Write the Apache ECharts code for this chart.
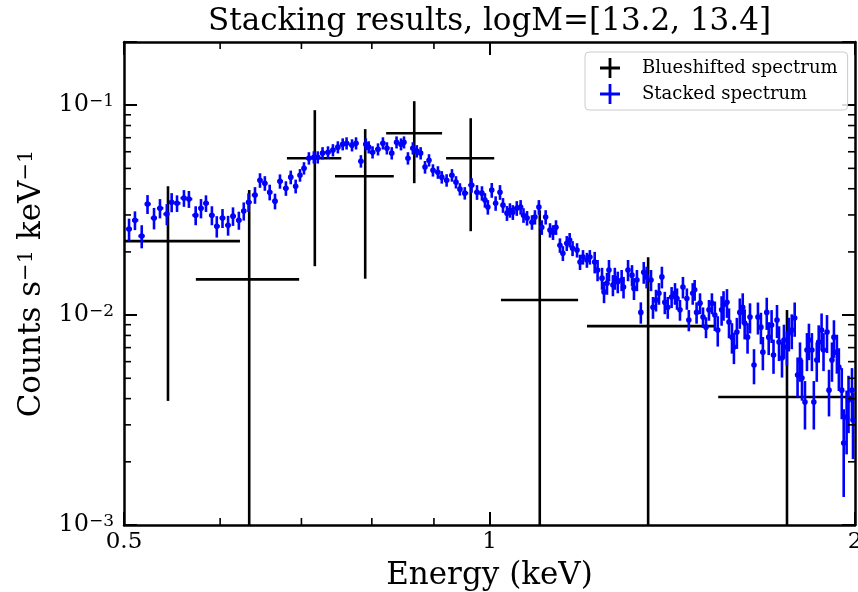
<!DOCTYPE html>
<html><head><meta charset="utf-8">
<script src="https://cdn.jsdelivr.net/npm/echarts@6/dist/echarts.min.js"></script>
<style>html,body{margin:0;padding:0;background:#fff;overflow:hidden}#chart{width:858px;height:592px}</style>
</head><body><div id="chart"></div>
<script>
const FONT = '"DejaVu Serif", "Liberation Serif", serif';

// ---- Blueshifted spectrum (black): energy centre, bin edges, counts, 1-sigma error
const bsE    = [0.5435, 0.634, 0.718, 0.790, 0.867, 0.965, 1.100, 1.351, 1.758];
const bsElo  = [0.474, 0.573, 0.681, 0.746, 0.822, 0.921, 1.022, 1.203, 1.543];
const bsEhi  = [0.623, 0.697, 0.755, 0.834, 0.914, 1.009, 1.183, 1.534, 1.993];
const bsC    = [0.0225, 0.0148, 0.0559, 0.0459, 0.0735, 0.0559, 0.0118, 0.00886, 0.00407];
const bsErr  = [0.0186, 0.0246, 0.0388, 0.031, 0.031, 0.0308, 0.0198, 0.0100, 0.0065];

// ---- Stacked spectrum (blue): energy, counts, 1-sigma error
const stE = [
0.5048,0.5105,0.5171,0.5228,0.5293,0.5353,0.5423,0.5473,0.5529,0.5602,
0.5655,0.5728,0.5786,0.5841,0.5907,0.5962,0.6027,0.6091,0.6148,0.6217,
0.6275,0.6332,0.6410,0.6471,0.6531,0.6591,0.6658,0.6721,0.6797,0.6860,
0.6924,
0.6981,0.7034,0.7100,0.7167,0.7220,0.7286,0.7362,0.7431,0.7501,0.7570,
0.7626,0.7705,0.7764,0.7836,0.7909,0.7953,0.8011,0.8094,0.8170,0.8232,
0.8308,0.8384,0.8455,0.8503,0.8567,0.8647,0.8712,0.8776,0.8849,0.8916,
0.8983,0.9068,0.9135,0.9219,0.9313,0.9384,0.9454,0.9542,
0.9666,0.9766,0.9858,0.9914,0.9969,1.0043,1.0117,1.0201,1.0259,1.0337,
1.0395,1.0453,1.0531,1.0608,1.0666,1.0738,1.0839,1.0900,1.0982,1.1042,
1.1124,1.1216,1.1280,1.1344,1.1429,1.1493,1.1578,1.1642,1.1706,1.1806,
1.1873,1.1940,1.2029,1.2096,
1.2208,1.2275,1.2379,1.2426,1.2496,1.2543,1.2637,1.2683,1.2754,1.2848,
1.2894,1.3005,1.3103,1.3152,1.3226,1.3324,1.3398,1.3472,1.3584,1.3635,
1.3713,1.3790,1.3867,1.3944,1.4022,1.4125,1.4216,1.4270,1.4351,1.4432,
1.4540,1.4594,1.4702,1.4756,1.4810,1.4907,1.4992,1.5077,1.5162,1.5247,
1.5332,1.5417,1.5530,1.5587,1.5689,1.5749,1.5838,1.5897,1.5986,1.6075,
1.6165,1.6224,1.6313,1.6389,1.6514,1.6638,1.6732,1.6794,1.6918,1.6981,
1.7074,1.7136,1.7250,1.7316,1.7414,1.7479,1.7577,1.7642,1.7740,1.7838,
1.7936,1.8019,1.8087,1.8190,1.8259,1.8327,1.8430,1.8498,1.8601,1.8670,
1.8772,1.8841,1.8966,1.9038,1.9145,1.9217,1.9325,1.9397,1.9504,1.9576,
1.9684,1.9756,1.9886,1.9924
];
const stC = [
0.0257,0.0283,0.0238,0.0338,0.0290,0.0323,0.0303,0.0345,0.0341,0.0361,
0.0357,0.0299,0.0323,0.0341,0.0299,0.0265,0.0290,0.0268,0.0296,0.0283,
0.0313,0.0345,0.0373,0.0439,0.0425,0.0385,0.0349,0.0434,0.0402,0.0454,
0.0411,
0.0464,0.0501,0.0559,0.0565,0.0565,0.0591,0.0597,0.0611,0.0631,0.0652,
0.0659,0.0645,0.0659,0.0541,0.0652,0.0631,0.0597,0.0617,0.0659,0.0624,
0.0591,0.0666,0.0652,0.0666,0.0559,0.0624,0.0604,0.0591,0.0507,0.0547,
0.0490,0.0479,0.0454,0.0439,0.0464,0.0430,0.0398,0.0381,
0.0416,0.0385,0.0381,0.0353,0.0327,0.0394,0.0341,0.0385,0.0334,0.0306,
0.0316,0.0309,0.0323,0.0327,0.0299,0.0290,0.0277,0.0293,0.0327,0.0262,
0.0293,0.0254,0.0248,0.0262,0.0215,0.0197,0.0220,0.0228,0.0208,0.0204,
0.0179,0.0189,0.0183,0.0189,
0.0179,0.0164,0.0150,0.0129,0.0142,0.0164,0.0139,0.0150,0.0144,0.0147,
0.0136,0.0164,0.0155,0.0134,0.0147,0.0103,0.0160,0.0152,0.0147,0.0109,
0.0118,0.0127,0.0152,0.0115,0.0109,0.0122,0.0127,0.0120,0.0106,0.0136,
0.0120,0.00947,0.0127,0.0132,0.0103,0.0114,0.00978,0.00876,0.0106,0.0114,
0.0100,0.00848,0.0106,0.0112,0.0115,0.00926,0.00785,0.00704,0.00830,0.0103,
0.0109,0.00916,0.00785,0.00978,0.00578,0.00978,0.00876,0.00666,0.0103,0.00785,
0.00896,0.00645,0.00947,0.00744,0.00624,0.00760,0.00704,0.00821,0.00848,0.00968,
0.00518,0.00611,0.00501,0.00385,0.00681,0.00760,0.00681,0.00385,0.00611,0.00744,
0.00848,0.00681,0.00830,0.00439,0.00611,0.00785,0.00666,0.00565,0.00439,0.00246,
0.00327,0.00394,0.00439,0.00316
];
const stErr = [
0.0031,0.0029,0.0030,0.0035,0.0034,0.0034,0.0035,0.0036,0.0031,0.0033,
0.0033,0.0031,0.0034,0.0031,0.0031,0.0031,0.0030,0.0029,0.0030,0.0028,
0.0031,0.0035,0.0034,0.0035,0.0034,0.0033,0.0030,0.0034,0.0032,0.0034,
0.0031,
0.0032,0.0034,0.0038,0.0038,0.0038,0.0040,0.0040,0.0041,0.0042,0.0043,
0.0044,0.0043,0.0044,0.0037,0.0043,0.0042,0.0040,0.0041,0.0044,0.0042,
0.0040,0.0044,0.0043,0.0044,0.0038,0.0042,0.0041,0.0040,0.0035,0.0037,
0.0033,0.0033,0.0031,0.0030,0.0032,0.0029,0.0027,0.0026,
0.0033,0.0031,0.0030,0.0028,0.0026,0.0032,0.0027,0.0031,0.0027,0.0025,
0.0025,0.0025,0.0026,0.0026,0.0024,0.0023,0.0022,0.0023,0.0026,0.0021,
0.0023,0.0020,0.0020,0.0021,0.0017,0.0016,0.0018,0.0018,0.0017,0.0016,
0.0015,0.0015,0.0015,0.0015,
0.0021,0.0019,0.0018,0.0015,0.0017,0.0019,0.0016,0.0018,0.0017,0.0017,
0.0016,0.0019,0.0018,0.0016,0.0017,0.0012,0.0019,0.0018,0.0017,0.0013,
0.0014,0.0015,0.0018,0.0014,0.0013,0.0014,0.0015,0.0014,0.0012,0.0016,
0.0014,0.0011,0.0015,0.0015,0.0012,0.0013,0.0011,0.0010,0.0012,0.0013,
0.0016,0.0014,0.0017,0.0018,0.0018,0.0015,0.0013,0.0012,0.0014,0.0017,
0.0018,0.0015,0.0013,0.0016,0.0011,0.0017,0.0015,0.0012,0.0018,0.0014,
0.0016,0.0012,0.0017,0.0014,0.0012,0.0014,0.0013,0.0015,0.0016,0.0018,
0.0011,0.0013,0.0011,0.0010,0.0014,0.0015,0.0014,0.0010,0.0013,0.0015,
0.0017,0.0014,0.0017,0.0011,0.0013,0.0016,0.0014,0.0013,0.0012,0.0011,
0.0011,0.0012,0.0012,0.0011
];

// ---- axis ticks
const xMajorTicks = [0.5, 1, 2];
const xMinorTicks = [0.6, 0.7, 0.8, 0.9];
const yMinorTicks = [0.002,0.003,0.004,0.005,0.006,0.007,0.008,0.009,
                     0.02,0.03,0.04,0.05,0.06,0.07,0.08,0.09];

const X_MIN = 0.5, X_MAX = 2, Y_MIN = 0.001, Y_MAX = 0.2;

// build series data (bin edges of the stacked spectrum = geometric midpoints between neighbours)
const n = stE.length;
const blueData = stE.map((e, i) => {
  const lo = i > 0 ? Math.sqrt(stE[i - 1] * e) : e * Math.sqrt(e / stE[1]);
  const hi = i < n - 1 ? Math.sqrt(stE[i + 1] * e) : e * Math.sqrt(e / stE[n - 2]);
  return [e, stC[i], stErr[i], lo, hi];
});
const blackData = bsE.map((e, i) => [e, bsC[i], bsErr[i], bsElo[i], bsEhi[i]]);

function makeErrRenderer(color, lw, markerR) {
  return function (params, api) {
    const cs = params.coordSys;
    const bottom = cs.y + cs.height, right = cs.x + cs.width;
    const cy = v => Math.max(cs.y, Math.min(bottom, v));
    const cx = v => Math.max(cs.x, Math.min(right, v));
    const e = api.value(0), c = api.value(1), s = api.value(2), el = api.value(3), eh = api.value(4);
    const p = api.coord([e, c]);
    const top = api.coord([e, c + s])[1];
    const bot = (c - s) > 0 ? api.coord([e, c - s])[1] : bottom;
    const xl = api.coord([Math.max(el, 1e-6), c])[0];
    const xr = api.coord([eh, c])[0];
    const st = { stroke: color, lineWidth: lw, fill: null };
    const children = [
      { type: 'line', shape: { x1: p[0], y1: cy(top), x2: p[0], y2: cy(bot) }, style: st },
      { type: 'line', shape: { x1: cx(xl), y1: p[1], x2: cx(xr), y2: p[1] }, style: st }
    ];
    if (markerR > 0) children.push({ type: 'circle', shape: { cx: p[0], cy: p[1], r: markerR }, style: { fill: color, stroke: null } });
    return { type: 'group', children };
  };
}

function renderMinorTicks(params, api) {
  const cs = params.coordSys;
  const bottom = cs.y + cs.height, right = cs.x + cs.width;
  const L = 7;
  const st = { stroke: '#000', lineWidth: 1.6 };
  const ch = [];
  xMinorTicks.forEach(v => {
    const x = api.coord([v, 0.01])[0];
    ch.push({ type: 'line', shape: { x1: x, y1: bottom, x2: x, y2: bottom - L }, style: st });
    ch.push({ type: 'line', shape: { x1: x, y1: cs.y, x2: x, y2: cs.y + L }, style: st });
  });
  yMinorTicks.forEach(v => {
    const y = api.coord([1, v])[1];
    ch.push({ type: 'line', shape: { x1: cs.x, y1: y, x2: cs.x + L, y2: y }, style: st });
    ch.push({ type: 'line', shape: { x1: right, y1: y, x2: right - L, y2: y }, style: st });
  });
  return { type: 'group', children: ch };
}

const axisLineStyle = { show: true, lineStyle: { color: '#000', width: 2.5 } };
const majorTick = { show: true, inside: true, length: 13, lineStyle: { color: '#000', width: 2 } };

function yLabel(v) {
  const lg = Math.log10(v);
  const k = Math.round(lg);
  if (Math.abs(lg - k) > 1e-6) return '';
  return '{b|10}{s|' + (k < 0 ? '\u2212' + (-k) : k) + '}';
}
function xLabel(v) {
  const r = Math.round(v * 1000) / 1000;
  return xMajorTicks.some(t => Math.abs(t - r) < 1e-6) ? String(r) : '';
}

const option = {
  animation: false,
  backgroundColor: '#fff',
  grid: { left: 124, top: 42, width: 731, height: 483, containLabel: false, outerBoundsMode: 'none' },
  graphic: [{
    type: 'text', x: 489.5, y: 22,
    style: { text: 'Stacking results, logM=[13.2, 13.4]', font: '31px ' + FONT, fill: '#000', align: 'center', verticalAlign: 'middle' },
    silent: true
  }],
  legend: {
    data: ['Blueshifted spectrum', 'Stacked spectrum'],
    orient: 'vertical', left: 585, top: 52,
    padding: [6, 10, 6, 15], itemGap: 6, itemWidth: 20, itemHeight: 20,
    icon: 'path://M0,8.6H20V11.4H0Z M8.6,0H11.4V20H8.6Z',
    borderColor: '#cccccc', borderWidth: 1, borderRadius: 4, backgroundColor: 'rgba(255,255,255,0.85)',
    selectedMode: false,
    textStyle: { fontFamily: FONT, fontSize: 18, color: '#000', padding: [0, 0, 0, 17] }
  },
  xAxis: [{
    type: 'log', logBase: 2, min: X_MIN, max: X_MAX, position: 'bottom',
    name: 'Energy (keV)', nameLocation: 'middle', nameGap: 35,
    nameTextStyle: { fontFamily: FONT, fontSize: 31, color: '#000' },
    axisLine: axisLineStyle, axisTick: majorTick, splitLine: { show: false },
    axisLabel: { formatter: xLabel, fontFamily: FONT, fontSize: 23, color: '#000', margin: 6 }
  }, {
    type: 'log', logBase: 2, min: X_MIN, max: X_MAX, position: 'top',
    axisLine: axisLineStyle, axisTick: majorTick, splitLine: { show: false }, axisLabel: { show: false }
  }],
  yAxis: [{
    type: 'log', logBase: 10, min: Y_MIN, max: Y_MAX, position: 'left',
    name: '{a|Counts s}{s|\u22121}{a| keV}{s|\u22121}', nameLocation: 'middle', nameGap: 65, nameRotate: 90,
    nameTextStyle: { rich: {
      a: { fontFamily: FONT, fontSize: 31, color: '#000' },
      s: { fontFamily: FONT, fontSize: 21, color: '#000', verticalAlign: 'top' }
    } },
    axisLine: axisLineStyle, axisTick: majorTick, splitLine: { show: false },
    axisLabel: { formatter: yLabel, margin: 10, rich: {
      b: { fontFamily: FONT, fontSize: 24, color: '#000' },
      s: { fontFamily: FONT, fontSize: 17, color: '#000', verticalAlign: 'top' }
    } }
  }, {
    type: 'log', logBase: 10, min: Y_MIN, max: Y_MAX, position: 'right',
    axisLine: axisLineStyle, axisTick: majorTick, splitLine: { show: false }, axisLabel: { show: false }
  }],
  series: [{
    name: 'Blueshifted spectrum', type: 'custom', xAxisIndex: 0, yAxisIndex: 0,
    itemStyle: { color: '#000000' }, encode: { x: 0, y: 1 },
    renderItem: makeErrRenderer('#000000', 2.6, 0), data: blackData, z: 3
  }, {
    name: 'Stacked spectrum', type: 'custom', xAxisIndex: 0, yAxisIndex: 0,
    itemStyle: { color: '#0000ff' }, encode: { x: 0, y: 1 },
    renderItem: makeErrRenderer('#0000ff', 2.6, 2.8), data: blueData, z: 4
  }, {
    name: 'minorTicks', type: 'custom', xAxisIndex: 0, yAxisIndex: 0, silent: true,
    renderItem: renderMinorTicks, data: [[1, 0.01]], z: 10
  }]
};

const chart = echarts.init(document.getElementById('chart'), null, { renderer: 'canvas' });
chart.setOption(option);
</script></body></html>
